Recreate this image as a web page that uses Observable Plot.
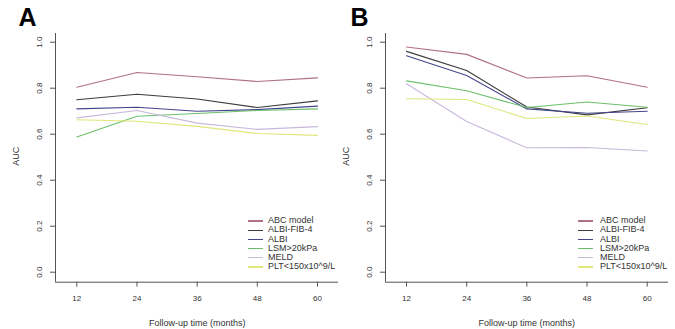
<!DOCTYPE html>
<html><head><meta charset="utf-8">
<script src="https://cdn.jsdelivr.net/npm/d3@7"></script>
<script src="https://cdn.jsdelivr.net/npm/@observablehq/plot@0.6"></script>
<style>
html,body{margin:0;padding:0;background:#fff;}
#wrap{position:relative;width:675px;height:329px;font-family:"Liberation Sans",Arial,sans-serif;overflow:hidden;}
#wrap svg{position:absolute;top:0;overflow:visible;}
.lg{position:absolute;font-size:9px;color:#333;line-height:9px;white-space:nowrap;}
.ll{position:absolute;height:1.2px;width:15px;}
</style></head>
<body><div id="wrap"></div>
<script>
const months = [12, 24, 36, 48, 60];
const series = ["ABC model", "ALBI-FIB-4", "ALBI", "LSM>20kPa", "MELD", "PLT<150x10^9/L"];
const colors = ["#b07086", "#3c3c3c", "#45458c", "#6cc06c", "#c8b8dc", "#dfe67a"];
const yTicks = [0, 0.2, 0.4, 0.6, 0.8, 1.0];

// Panel A
const abcA     = [0.804, 0.868, 0.850, 0.829, 0.845];
const albifibA = [0.750, 0.774, 0.753, 0.716, 0.745];
const albiA    = [0.710, 0.717, 0.700, 0.707, 0.722];
const lsmA     = [0.588, 0.678, 0.690, 0.703, 0.710];
const meldA    = [0.671, 0.703, 0.648, 0.621, 0.633];
const pltA     = [0.663, 0.656, 0.634, 0.603, 0.595];
// Panel B
const abcB     = [0.979, 0.947, 0.844, 0.854, 0.804];
const albifibB = [0.960, 0.877, 0.718, 0.684, 0.715];
const albiB    = [0.941, 0.855, 0.710, 0.691, 0.700];
const lsmB     = [0.832, 0.789, 0.716, 0.740, 0.717];
const meldB    = [0.819, 0.655, 0.541, 0.542, 0.527];
const pltB     = [0.754, 0.751, 0.668, 0.679, 0.642];

function toRows(arrs) {
  const rows = [];
  arrs.forEach((a, i) => a.forEach((v, j) => rows.push({series: series[i], month: months[j], auc: v})));
  return rows;
}
const dataA = toRows([abcA, albifibA, albiA, lsmA, meldA, pltA]);
const dataB = toRows([abcB, albifibB, albiB, lsmB, meldB, pltB]);

const yDom = [-0.0435, 1.0378];
const wrap = document.getElementById("wrap");

function panel(data, o) {
  const svg = Plot.plot({
    width: o.width, height: 329,
    marginLeft: o.ml, marginRight: o.mr, marginTop: 33, marginBottom: 47.3,
    x: {domain: o.xdom, axis: null},
    y: {domain: yDom, axis: null},
    color: {domain: series, range: colors},
    style: {fontFamily: "'Liberation Sans', Arial, sans-serif", background: "transparent", color: "#333"},
    marks: [
      Plot.ruleX([o.xdom[0]], {stroke: "#555", strokeWidth: 1}),
      Plot.ruleY([yDom[0]], {stroke: "#555", strokeWidth: 1}),
      Plot.axisX({ticks: months, tickSize: 5, tickPadding: 8, label: null, fontSize: 8, stroke: "#555", fill: "#333"}),
      Plot.axisY({ticks: yTicks, tickSize: 5, tickFormat: () => "", label: null, stroke: "#555"}),
      Plot.text(yTicks, {y: d => d, text: d => d.toFixed(1), frameAnchor: "left", textAnchor: "middle", lineAnchor: "middle", dx: -15.7, rotate: -90, fontSize: 8, fill: "#333"}),
      Plot.text(["AUC"], {frameAnchor: "left", textAnchor: "middle", lineAnchor: "middle", dx: o.aucDx, dy: -1.5, rotate: -90, fontSize: 9, fill: "#333"}),
      Plot.text(["Follow-up time (months)"], {x: 36, frameAnchor: "bottom", lineAnchor: "middle", dy: 40.5, fontSize: 9, fill: "#333"}),
      Plot.text([o.letter], {frameAnchor: "top-left", textAnchor: "start", lineAnchor: "top", dx: o.letterDx, dy: -25, fontSize: 25, fontWeight: "bold", fill: "#000"}),
      Plot.line(data, {x: "month", y: "auc", z: "series", stroke: "series", strokeWidth: 1.1})
    ]
  });
  svg.style.left = o.left + "px";
  wrap.appendChild(svg);
  // legend
  const rowY = [221, 230.2, 239.4, 248.6, 257.8, 267];
  series.forEach((s, i) => {
    const l = document.createElement("div");
    l.className = "ll";
    l.style.left = o.legLine + "px";
    l.style.top = (rowY[i] - 0.6) + "px";
    l.style.background = colors[i];
    wrap.appendChild(l);
    const t = document.createElement("div");
    t.className = "lg";
    t.style.left = o.legText + "px";
    t.style.top = (rowY[i] - 4.8) + "px";
    t.textContent = s;
    wrap.appendChild(t);
  });
}

panel(dataA, {left: 0, width: 338, ml: 55, mr: 0, xdom: [7.75, 64.19], letter: "A", letterDx: -37, aucDx: -39, legLine: 248, legText: 268});
panel(dataB, {left: 335, width: 340, ml: 50, mr: 7, xdom: [7.81, 64.25], letter: "B", letterDx: -35, aucDx: -39, legLine: 578, legText: 600});
</script>
</body></html>
